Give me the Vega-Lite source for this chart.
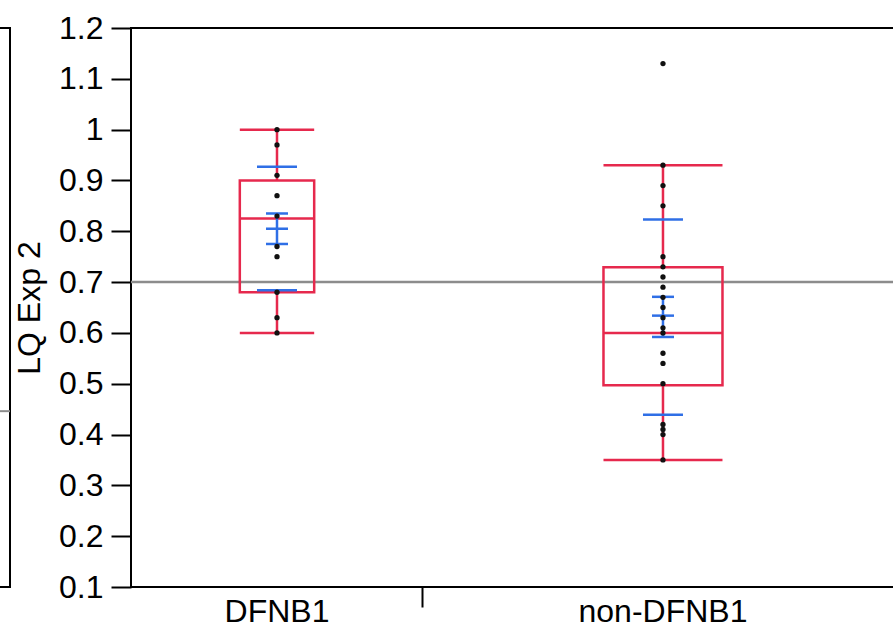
{
  "$schema": "https://vega.github.io/schema/vega-lite/v6.json",
  "padding": {"left": -4, "top": 11, "right": -8, "bottom": 0},
  "background": "white",
  "spacing": 121,
  "bounds": "flush",
  "config": {
    "font": "Liberation Sans",
    "view": {"stroke": "black", "strokeWidth": 2},
    "axisY": {
      "tickSize": 20, "tickWidth": 2, "tickColor": "black",
      "labelPadding": 8, "labelFontSize": 32, "labelColor": "black",
      "titleFontSize": 32, "titleFontWeight": "normal", "titleColor": "black",
      "titlePadding": 12, "domain": false, "grid": false
    }
  },
  "datasets": {
    "previous_panel": [{"overall_mean": 0.446}],
    "reference": [{"overall_mean": 0.7}],
    "summary": [
      {"group": "DFNB1", "n": 15, "lo": 0.60, "q1": 0.68, "med": 0.825, "q3": 0.90, "hi": 1.00, "mean": 0.805, "ci_lo": 0.775, "ci_hi": 0.835, "sd_lo": 0.684, "sd_hi": 0.927},
      {"group": "non-DFNB1", "n": 24, "lo": 0.35, "q1": 0.497, "med": 0.60, "q3": 0.729, "hi": 0.93, "mean": 0.634, "ci_lo": 0.592, "ci_hi": 0.671, "sd_lo": 0.439, "sd_hi": 0.823}
    ],
    "points": [
      {"group": "DFNB1", "v": 1.00}, {"group": "DFNB1", "v": 0.97}, {"group": "DFNB1", "v": 0.91},
      {"group": "DFNB1", "v": 0.87}, {"group": "DFNB1", "v": 0.83}, {"group": "DFNB1", "v": 0.77},
      {"group": "DFNB1", "v": 0.75}, {"group": "DFNB1", "v": 0.68}, {"group": "DFNB1", "v": 0.63},
      {"group": "DFNB1", "v": 0.60},
      {"group": "non-DFNB1", "v": 1.13}, {"group": "non-DFNB1", "v": 0.93}, {"group": "non-DFNB1", "v": 0.89},
      {"group": "non-DFNB1", "v": 0.85}, {"group": "non-DFNB1", "v": 0.75}, {"group": "non-DFNB1", "v": 0.73},
      {"group": "non-DFNB1", "v": 0.71}, {"group": "non-DFNB1", "v": 0.69}, {"group": "non-DFNB1", "v": 0.67},
      {"group": "non-DFNB1", "v": 0.65}, {"group": "non-DFNB1", "v": 0.63}, {"group": "non-DFNB1", "v": 0.61},
      {"group": "non-DFNB1", "v": 0.60}, {"group": "non-DFNB1", "v": 0.56}, {"group": "non-DFNB1", "v": 0.54},
      {"group": "non-DFNB1", "v": 0.50}, {"group": "non-DFNB1", "v": 0.42}, {"group": "non-DFNB1", "v": 0.41},
      {"group": "non-DFNB1", "v": 0.40}, {"group": "non-DFNB1", "v": 0.35}
    ]
  },
  "hconcat": [
    {
      "width": 12,
      "height": 559,
      "data": {"name": "previous_panel"},
      "mark": {"type": "rule", "color": "#8c8c8c", "strokeWidth": 2},
      "encoding": {
        "y": {"field": "overall_mean", "type": "quantitative", "scale": {"domain": [0.1, 1.2], "nice": false, "zero": false}, "axis": null}
      }
    },
    {
      "width": 770,
      "height": 559,
      "layer": [
        {
          "data": {"name": "reference"},
          "mark": {"type": "rule", "color": "#8c8c8c", "strokeWidth": 2.5},
          "encoding": {
            "y": {"field": "overall_mean", "type": "quantitative", "title": "LQ Exp 2"}
          }
        },
        {
          "data": {"name": "summary"},
          "mark": {"type": "rule", "color": "#e6294d", "strokeWidth": 2.5},
          "encoding": {
            "x": {
              "field": "group", "type": "nominal", "title": null,
              "scale": {"type": "band", "domain": ["DFNB1", "non-DFNB1"], "paddingInner": 0.2435, "paddingOuter": 0.1192, "align": 0, "round": false},
              "axis": {
                "bandPosition": 1, "labelAngle": 0,
                "tickSize": 20, "tickWidth": 2, "tickColor": "black",
                "tickOpacity": {"condition": {"test": "datum.value === 'DFNB1'", "value": 1}, "value": 0},
                "labelPadding": -11, "labelFontSize": 32, "labelColor": "black",
                "domain": false, "grid": false
              }
            },
            "y": {
              "field": "q3", "type": "quantitative", "title": "LQ Exp 2",
              "scale": {"domain": [0.1, 1.2], "nice": false, "zero": false},
              "axis": {"values": [0.1, 0.2, 0.3, 0.4, 0.5, 0.6, 0.7, 0.8, 0.9, 1, 1.1, 1.2], "format": "~g"}
            },
            "y2": {"field": "hi"}
          }
        },
        {
          "data": {"name": "summary"},
          "mark": {"type": "rule", "color": "#e6294d", "strokeWidth": 2.5},
          "encoding": {
            "x": {"field": "group", "type": "nominal", "title": null},
            "y": {"field": "lo", "type": "quantitative", "title": "LQ Exp 2"},
            "y2": {"field": "q1"}
          }
        },
        {
          "data": {"name": "summary"},
          "mark": {"type": "tick", "color": "#e6294d", "thickness": 2.5, "opacity": 1},
          "encoding": {
            "x": {"field": "group", "type": "nominal", "title": null},
            "y": {"field": "hi", "type": "quantitative", "title": "LQ Exp 2"},
            "size": {"field": "n", "type": "quantitative", "legend": null, "scale": {"domain": [0, 24], "range": [0, 119]}}
          }
        },
        {
          "data": {"name": "summary"},
          "mark": {"type": "tick", "color": "#e6294d", "thickness": 2.5, "opacity": 1},
          "encoding": {
            "x": {"field": "group", "type": "nominal", "title": null},
            "y": {"field": "lo", "type": "quantitative", "title": "LQ Exp 2"},
            "size": {"field": "n", "type": "quantitative", "legend": null}
          }
        },
        {
          "data": {"name": "summary"},
          "mark": {"type": "bar", "fill": "white", "fillOpacity": 0, "stroke": "#e6294d", "strokeWidth": 2.5},
          "encoding": {
            "x": {"field": "group", "type": "nominal", "title": null},
            "y": {"field": "q1", "type": "quantitative", "title": "LQ Exp 2"},
            "y2": {"field": "q3"},
            "size": {"field": "n", "type": "quantitative", "legend": null}
          }
        },
        {
          "data": {"name": "summary"},
          "mark": {"type": "tick", "color": "#e6294d", "thickness": 2.5, "opacity": 1},
          "encoding": {
            "x": {"field": "group", "type": "nominal", "title": null},
            "y": {"field": "med", "type": "quantitative", "title": "LQ Exp 2"},
            "size": {"field": "n", "type": "quantitative", "legend": null}
          }
        },
        {
          "data": {"name": "summary"},
          "mark": {"type": "rule", "color": "#2f6fe6", "strokeWidth": 2.5},
          "encoding": {
            "x": {"field": "group", "type": "nominal", "title": null},
            "y": {"field": "ci_lo", "type": "quantitative", "title": "LQ Exp 2"},
            "y2": {"field": "ci_hi"}
          }
        },
        {
          "data": {"name": "summary"},
          "transform": [{"fold": ["mean", "ci_lo", "ci_hi"], "as": ["stat", "value"]}],
          "mark": {"type": "tick", "color": "#2f6fe6", "thickness": 2.5, "size": 22, "opacity": 1},
          "encoding": {
            "x": {"field": "group", "type": "nominal", "title": null},
            "y": {"field": "value", "type": "quantitative", "title": "LQ Exp 2"}
          }
        },
        {
          "data": {"name": "summary"},
          "transform": [{"fold": ["sd_lo", "sd_hi"], "as": ["stat", "value"]}],
          "mark": {"type": "tick", "color": "#2f6fe6", "thickness": 2.5, "size": 40, "opacity": 1},
          "encoding": {
            "x": {"field": "group", "type": "nominal", "title": null},
            "y": {"field": "value", "type": "quantitative", "title": "LQ Exp 2"}
          }
        },
        {
          "data": {"name": "points"},
          "mark": {"type": "circle", "color": "#111111", "size": 28, "opacity": 1},
          "encoding": {
            "x": {"field": "group", "type": "nominal", "title": null},
            "y": {"field": "v", "type": "quantitative", "title": "LQ Exp 2"}
          }
        }
      ]
    }
  ]
}
